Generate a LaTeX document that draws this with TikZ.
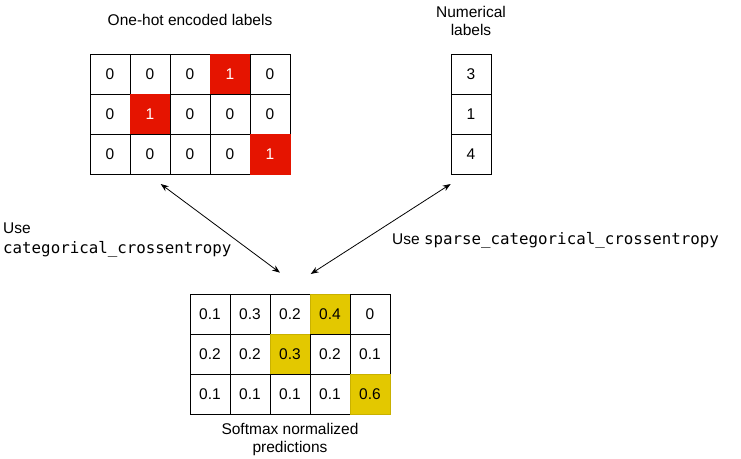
\documentclass[tikz,border=0pt]{standalone}
\usepackage{fontspec}
\setmainfont{Liberation Sans}
\setmonofont{DejaVu Sans Mono}
\usepackage{xcolor}
\definecolor{hotRed}{HTML}{E51400}
\definecolor{predGold}{HTML}{E3C800}
\definecolor{predGoldLine}{HTML}{C9B100}
\usepackage{tikz}
\usetikzlibrary{arrows.meta}
\newcommand{\codetxt}[1]{{\ttfamily\fontsize{15.8}{20}\selectfont #1}}

\begin{document}
\begin{tikzpicture}[x=1pt, y=-1pt, >={Stealth[length=8pt,width=6pt]},
  cell/.style={draw, line width=0.9pt, minimum size=40pt, inner sep=0pt, font=\fontsize{15.5}{18}\selectfont},
  caption/.style={align=center, font=\fontsize{15.5}{18.5}\selectfont}]
  \useasboundingbox (0,0) rectangle (741,458);
  % ------- one-hot labels -------
  \node[caption] (ohTitle) at (190,20) {One-hot encoded labels};
  \foreach \vals [count=\r] in {{0,0,0,1,0},{0,1,0,0,0},{0,0,0,0,1}} {
    \foreach \v [count=\c] in \vals {
      \ifnum\v=1
        \node[cell, draw=hotRed, fill=hotRed, text=white] (oh-\r-\c) at ({70+40*\c},{34+40*\r}) {\v};
      \else
        \node[cell] (oh-\r-\c) at ({70+40*\c},{34+40*\r}) {\v};
      \fi
    }
  }
  % ------- numerical labels -------
  \node[caption] (numTitle) at (471,21) {Numerical\\labels};
  \foreach \v [count=\r] in {3,1,4}
    \node[cell] (num-\r) at (471,{34+40*\r}) {\v};
  % ------- softmax predictions -------
  \foreach \vals [count=\r] in {{0.1/0,0.3/0,0.2/0,0.4/1,0/0},{0.2/0,0.2/0,0.3/1,0.2/0,0.1/0},{0.1/0,0.1/0,0.1/0,0.1/0,0.6/1}} {
    \foreach \v/\h [count=\c] in \vals {
      \ifnum\h=1
        \node[cell, draw=predGoldLine, fill=predGold] (sm-\r-\c) at ({170+40*\c},{274+40*\r}) {\v};
      \else
        \node[cell] (sm-\r-\c) at ({170+40*\c},{274+40*\r}) {\v};
      \fi
    }
  }
  \node[caption] (smTitle) at (290,439.5) {Softmax normalized\\predictions};
  % ------- loss labels and arrows -------
  \node[anchor=west, align=left, inner sep=2pt, font=\fontsize{15.5}{20}\selectfont] (catLabel) at (1,240)
    {Use\\\codetxt{categorical\_crossentropy}};
  \node[anchor=west, inner sep=2pt, font=\fontsize{15.5}{20}\selectfont] (sparseLabel) at (390,240)
    {Use \codetxt{sparse\_categorical\_crossentropy}};
  \coordinate (ohEnd) at (160.7,184);
  \coordinate (numEnd) at (450.7,184);
  \coordinate (smLeft) at (280,272.7);
  \coordinate (smRight) at (310.7,274);
  \draw[<->, line width=0.8pt] (ohEnd) -- (smLeft);
  \draw[<->, line width=0.8pt] (numEnd) -- (smRight);
\end{tikzpicture}
\end{document}
